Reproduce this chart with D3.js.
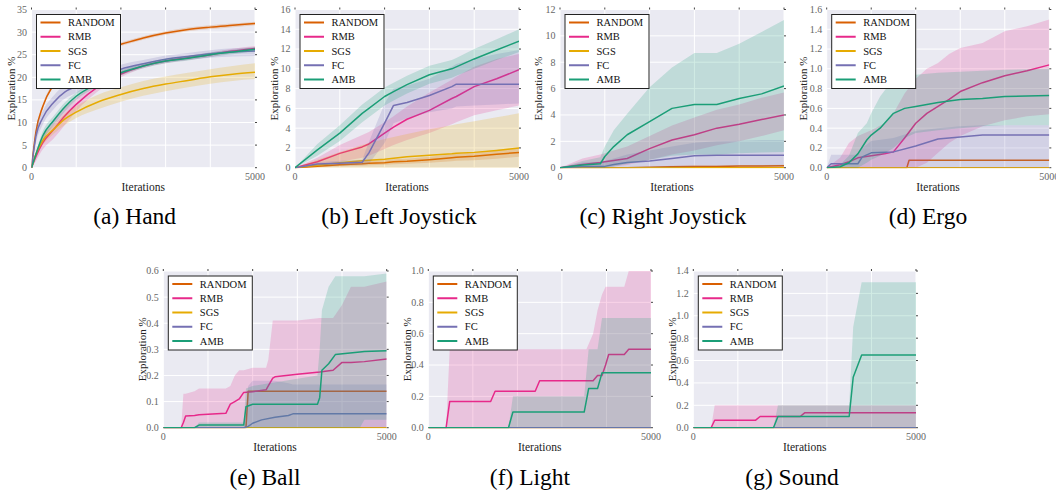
<!DOCTYPE html>
<html>
<head>
<meta charset="utf-8">
<script src="https://cdn.jsdelivr.net/npm/d3@7"></script>
<style>
  body { margin: 0; background: #fff; }
  svg { display: block; }
  text { font-family: "Liberation Serif", "DejaVu Serif", serif; }
</style>
</head>
<body>
<div id="chart"></div>
<script>
// Series (legend order) and their colours
const SERIES = ["RANDOM", "RMB", "SGS", "FC", "AMB"];
const COLORS = ["#d95f02", "#e7298a", "#e6ab02", "#7570b3", "#1b9e77"];

const X_GRID = [0, 1000, 2000, 3000, 4000, 5000];
const X_LABELS = [0, 5000];

// y tick values per panel
const handTicks = [0, 5, 10, 15, 20, 25, 30, 35];
const leftTicks = [0, 2, 4, 6, 8, 10, 12, 14, 16];
const rightTicks = [0, 2, 4, 6, 8, 10, 12];
const ergoTicks = [0, 0.2, 0.4, 0.6, 0.8, 1.0, 1.2, 1.4, 1.6];
const ballTicks = [0, 0.1, 0.2, 0.3, 0.4, 0.5, 0.6];
const lightTicks = [0, 0.2, 0.4, 0.6, 0.8, 1.0];
const soundTicks = [0, 0.2, 0.4, 0.6, 0.8, 1.0, 1.2, 1.4];

// (a) Hand: shared iterations, rows in SERIES order
const handX = [0, 100, 250, 500, 750, 1000, 1500, 2000, 2500, 3000, 3500, 4000, 4500, 5000];
const handMean = [
  [0, 8, 13.5, 18.5, 21.5, 23.5, 26, 27.3, 28.7, 29.8, 30.6, 31.1, 31.5, 31.9],
  [0, 2.5, 5.5, 8.5, 11.5, 14, 18, 20.7, 22.5, 23.6, 24.3, 25, 25.8, 26.4],
  [0, 3, 6, 8.5, 10.8, 12.3, 14.6, 16.2, 17.5, 18.5, 19.3, 20.1, 20.7, 21.1],
  [0, 7, 11, 14.5, 16.8, 18, 20, 21.8, 23, 24, 24.6, 25.2, 25.6, 25.8],
  [0, 3, 7, 10.5, 13.5, 15.8, 18.7, 21, 22.5, 23.6, 24.2, 25, 25.6, 26.2]
];
const handLo = [
  [0, 7.5, 13, 18, 21, 23, 25.6, 26.9, 28.3, 29.4, 30.2, 30.7, 31.1, 31.5],
  [0, 1.5, 4, 6.5, 9.5, 12.5, 17, 20, 22, 23.1, 23.8, 24.5, 25.3, 25.9],
  [0, 2.5, 5, 7.5, 9.5, 11, 13, 14.6, 15.9, 16.9, 17.8, 18.6, 19.2, 19.6],
  [0, 5.5, 9.5, 13, 15.3, 16.5, 18.8, 20.8, 22.2, 23.2, 23.8, 24.3, 24.6, 24.7],
  [0, 2.5, 6, 9.5, 12.5, 15, 18, 20.4, 22, 23.1, 23.7, 24.5, 25.1, 25.7]
];
const handHi = [
  [0, 8.5, 14, 19, 22, 24, 26.4, 27.7, 29.1, 30.2, 31, 31.5, 31.9, 32.3],
  [0, 3.5, 7, 10.5, 13.5, 15.5, 19, 21.4, 23, 24.1, 24.8, 25.5, 26.3, 26.9],
  [0, 3.5, 7, 9.5, 12, 13.6, 16.2, 17.8, 19.2, 20.2, 21, 21.8, 22.5, 23.1],
  [0, 8.5, 12.5, 16, 18.3, 19.5, 21.2, 22.8, 23.8, 24.8, 25.4, 26, 26.4, 26.6],
  [0, 3.5, 8, 11.5, 14.5, 16.6, 19.4, 21.6, 23, 24.1, 24.7, 25.5, 26.1, 26.7]
];

// (b) Left Joystick
const leftX = [0, 500, 1000, 1500, 1650, 2000, 2200, 2500, 3000, 3500, 3600, 4000, 4500, 5000];
const leftMean = [
  [0, 0.15, 0.3, 0.4, 0.45, 0.5, 0.6, 0.65, 0.8, 1.0, 1.05, 1.15, 1.35, 1.55],
  [0, 0.6, 1.45, 2.1, 2.4, 3.5, 4.1, 4.9, 5.8, 7.0, 7.2, 8.2, 9.0, 9.9],
  [0, 0.25, 0.5, 0.7, 0.75, 0.85, 0.95, 1.1, 1.25, 1.4, 1.45, 1.55, 1.75, 2.0],
  [0, 0.37, 0.45, 0.55, 1.5, 4.5, 6.3, 6.6, 7.3, 8.2, 8.45, 8.45, 8.45, 8.45],
  [0, 1.8, 3.5, 5.5, 6.0, 7.2, 7.7, 8.4, 9.4, 10.0, 10.2, 11.0, 11.9, 12.8]
];
const leftLo = [
  [0, 0.05, 0.15, 0.2, 0.25, 0.3, 0.35, 0.4, 0.5, 0.65, 0.7, 0.75, 0.9, 1.1],
  [0, 0.2, 0.6, 1.0, 1.2, 1.9, 2.3, 2.8, 3.5, 4.4, 4.6, 5.3, 5.8, 6.3],
  [0, 0, 0, 0, 0, 0, 0, 0, 0, 0, 0, 0, 0, 0],
  [0, 0.2, 0.25, 0.3, 0.4, 2.5, 4.5, 5.0, 5.6, 6.0, 6.2, 6.3, 6.4, 6.5],
  [0, 1.2, 2.7, 4.6, 5.1, 6.3, 6.8, 7.5, 8.5, 9.1, 9.3, 10.0, 10.9, 11.7]
];
const leftHi = [
  [0, 0.3, 0.5, 0.65, 0.7, 0.75, 0.85, 0.9, 1.1, 1.35, 1.4, 1.55, 1.8, 2.0],
  [0, 1.0, 2.3, 3.3, 3.6, 4.6, 5.2, 6.2, 7.6, 8.9, 9.2, 10.2, 11.0, 11.5],
  [0, 0.8, 1.6, 2.3, 2.5, 2.9, 3.1, 3.4, 3.9, 4.3, 4.4, 4.7, 5.1, 5.5],
  [0, 0.55, 0.7, 0.8, 2.6, 6.5, 8.0, 8.3, 9.0, 10.2, 10.5, 11.0, 11.5, 11.9],
  [0, 2.4, 4.3, 6.4, 6.9, 8.1, 8.6, 9.3, 10.3, 10.9, 11.1, 12.0, 13.0, 14.0]
];

// (c) Right Joystick
const rightX = [0, 500, 900, 1000, 1200, 1500, 2000, 2500, 3000, 3500, 4000, 4500, 5000];
const rightMean = [
  [0, 0, 0, 0, 0, 0, 0.03, 0.08, 0.1, 0.1, 0.12, 0.13, 0.15],
  [0, 0.25, 0.4, 0.45, 0.55, 0.7, 1.45, 2.1, 2.5, 3.0, 3.3, 3.65, 4.0],
  [0, 0, 0, 0, 0, 0, 0, 0, 0, 0, 0, 0, 0],
  [0, 0.1, 0.1, 0.1, 0.25, 0.4, 0.5, 0.7, 0.9, 0.95, 0.95, 0.95, 0.95],
  [0, 0.2, 0.3, 0.85, 1.6, 2.5, 3.5, 4.5, 4.8, 4.8, 5.25, 5.6, 6.2]
];
const rightLo = [
  [0, 0, 0, 0, 0, 0, 0, 0.03, 0.05, 0.05, 0.06, 0.07, 0.08],
  [0, 0, 0, 0, 0.1, 0.2, 0.6, 1.0, 1.3, 1.7, 2.0, 2.4, 2.85],
  [0, 0, 0, 0, 0, 0, 0, 0, 0, 0, 0, 0, 0],
  [0, 0, 0, 0, 0, 0, 0, 0, 0.05, 0.1, 0.1, 0.1, 0.1],
  [0, 0, 0, 0, 0.1, 0.3, 0.6, 0.9, 1.0, 1.0, 1.1, 1.15, 1.2]
];
const rightHi = [
  [0, 0, 0, 0, 0, 0.05, 0.08, 0.14, 0.16, 0.16, 0.18, 0.2, 0.22],
  [0, 0.7, 1.0, 1.1, 1.3, 1.6, 2.4, 3.2, 3.8, 4.4, 4.8, 5.3, 5.7],
  [0, 0, 0, 0, 0, 0, 0, 0, 0, 0, 0, 0, 0],
  [0, 0.4, 0.45, 0.5, 0.7, 1.0, 1.3, 1.6, 1.9, 2.0, 2.05, 2.1, 2.1],
  [0, 0.5, 0.8, 1.6, 2.85, 4.1, 6.1, 7.6, 8.7, 8.7, 9.4, 10.3, 11.2]
];

// (d)-(g): per series lists of [iteration, mean, low, high]
const ergoData = [
  [[0, 0, 0, 0], [1800, 0, 0, 0], [1850, 0.075, 0.075, 0.075], [5000, 0.075, 0.075, 0.075]],
  [[0, 0, 0, 0], [300, 0.03, 0, 0.1], [500, 0.06, 0, 0.25], [700, 0.1, 0, 0.32], [1000, 0.12, 0, 0.38],
   [1300, 0.14, 0, 0.45], [1500, 0.16, 0, 0.55], [1750, 0.3, 0, 0.75], [2000, 0.45, 0, 0.9],
   [2250, 0.55, 0.05, 1.0], [2500, 0.62, 0.15, 1.06], [2750, 0.69, 0.25, 1.15], [3000, 0.77, 0.32, 1.21],
   [3500, 0.86, 0.42, 1.26], [4000, 0.93, 0.48, 1.38], [4500, 0.98, 0.52, 1.43], [5000, 1.04, 0.54, 1.5]],
  [[0, 0, 0, 0], [5000, 0, 0, 0]],
  [[0, 0, 0, 0], [100, 0.04, 0, 0.13], [700, 0.04, 0, 0.13], [800, 0.11, 0, 0.2], [1000, 0.15, 0, 0.27],
   [1500, 0.16, 0, 0.3], [2000, 0.22, 0, 0.37], [2500, 0.29, 0, 0.4], [3000, 0.31, 0, 0.42],
   [3500, 0.33, 0, 0.43], [5000, 0.33, 0, 0.43]],
  [[0, 0, 0, 0], [300, 0.01, 0, 0.03], [500, 0.05, 0, 0.12], [700, 0.14, 0, 0.35], [900, 0.28, 0.05, 0.45],
   [1000, 0.33, 0.08, 0.55], [1200, 0.4, 0.12, 0.72], [1500, 0.55, 0.2, 0.9], [1750, 0.6, 0.3, 0.92],
   [2000, 0.62, 0.35, 0.94], [2500, 0.66, 0.38, 0.96], [3000, 0.69, 0.4, 0.97], [3500, 0.7, 0.42, 0.98],
   [4000, 0.72, 0.43, 0.99], [5000, 0.73, 0.43, 1.0]]
];

const ballData = [
  [[0, 0, 0, 0], [1850, 0, 0, 0], [1900, 0.14, 0.14, 0.14], [5000, 0.14, 0.14, 0.14]],
  [[0, 0, 0, 0], [400, 0, 0, 0], [450, 0.02, 0, 0.13], [500, 0.045, 0, 0.13], [700, 0.047, 0, 0.14],
   [800, 0.05, 0, 0.15], [1400, 0.055, 0, 0.15], [1500, 0.09, 0, 0.16], [1600, 0.1, 0, 0.2],
   [1700, 0.11, 0, 0.22], [1800, 0.135, 0, 0.22], [2000, 0.138, 0, 0.23], [2300, 0.145, 0, 0.23],
   [2350, 0.16, 0, 0.26], [2450, 0.19, 0, 0.41], [2500, 0.195, 0, 0.41], [3000, 0.205, 0, 0.41],
   [3500, 0.213, 0, 0.42], [3800, 0.22, 0, 0.42], [4000, 0.25, 0, 0.47], [4200, 0.25, 0, 0.54],
   [4500, 0.253, 0, 0.54], [5000, 0.263, 0, 0.56]],
  [[0, 0, 0, 0], [5000, 0, 0, 0]],
  [[0, 0, 0, 0], [1800, 0, 0, 0], [1900, 0.005, 0, 0.16], [2000, 0.017, 0, 0.18], [2200, 0.03, 0, 0.18],
   [2500, 0.04, 0, 0.18], [2800, 0.047, 0, 0.17], [2900, 0.053, 0, 0.165], [5000, 0.053, 0, 0.165]],
  [[0, 0, 0, 0], [700, 0, 0, 0], [800, 0.01, 0, 0.02], [1800, 0.01, 0, 0.02], [1850, 0.08, 0, 0.15],
   [2000, 0.09, 0, 0.16], [3450, 0.09, 0, 0.2], [3500, 0.115, 0, 0.3], [3550, 0.22, 0, 0.45],
   [3700, 0.245, 0, 0.54], [3850, 0.28, 0, 0.58], [4400, 0.29, 0, 0.58], [4500, 0.292, 0.03, 0.58],
   [5000, 0.295, 0.03, 0.59]]
];

const lightData = [
  [[0, 0, 0, 0], [5000, 0, 0, 0]],
  [[0, 0, 0, 0], [400, 0, 0, 0], [480, 0.167, 0, 0.5], [1400, 0.167, 0, 0.5], [1500, 0.233, 0, 0.5],
   [2400, 0.233, 0, 0.5], [2500, 0.3, 0, 0.5], [3550, 0.3, 0, 0.5], [3700, 0.3, 0, 0.6],
   [3800, 0.333, 0, 0.75], [3900, 0.333, 0, 0.85], [3980, 0.4, 0, 0.9], [4050, 0.467, 0, 0.9],
   [4400, 0.467, 0, 0.9], [4500, 0.5, 0, 1.0], [5000, 0.5, 0, 1.0]],
  [[0, 0, 0, 0], [5000, 0, 0, 0]],
  [[0, 0, 0, 0], [5000, 0, 0, 0]],
  [[0, 0, 0, 0], [1800, 0, 0, 0], [1900, 0.1, 0, 0.2], [3500, 0.1, 0, 0.2], [3600, 0.25, 0, 0.5],
   [3800, 0.25, 0, 0.5], [3900, 0.35, 0, 0.7], [5000, 0.35, 0, 0.7]]
];

const soundData = [
  [[0, 0, 0, 0], [5000, 0, 0, 0]],
  [[0, 0, 0, 0], [400, 0, 0, 0], [480, 0.067, 0, 0.2], [1400, 0.067, 0, 0.2], [1500, 0.1, 0, 0.2],
   [2400, 0.1, 0, 0.2], [2500, 0.133, 0, 0.2], [5000, 0.133, 0, 0.2]],
  [[0, 0, 0, 0], [5000, 0, 0, 0]],
  [[0, 0, 0, 0], [5000, 0, 0, 0]],
  [[0, 0, 0, 0], [1800, 0, 0, 0], [1900, 0.1, 0, 0.2], [3500, 0.1, 0, 0.2], [3590, 0.45, 0, 0.9],
   [3780, 0.65, 0, 1.3], [5000, 0.65, 0, 1.3]]
];

// turn shared-x tables into the [iteration, mean, low, high] form
function toRows(xs, mean, lo, hi) {
  return mean.map((m, s) => xs.map((x, i) => [x, m[i], lo[s][i], hi[s][i]]));
}

const panels = [
  { rows: toRows(handX, handMean, handLo, handHi), ticks: handTicks, fmt: "d", smooth: true,
    x: 31.5, y: 9.5, w: 223.5, h: 158.2, ylab: 20, caption: "(a) Hand", capX: 134.7, capY: 224 },
  { rows: toRows(leftX, leftMean, leftLo, leftHi), ticks: leftTicks, fmt: "d",
    x: 295, y: 9.5, w: 224, h: 158.2, ylab: 20.5, caption: "(b) Left Joystick", capX: 399, capY: 224 },
  { rows: toRows(rightX, rightMean, rightLo, rightHi), ticks: rightTicks, fmt: "d",
    x: 560, y: 9.5, w: 224, h: 158.2, ylab: 21.5, caption: "(c) Right Joystick", capX: 663, capY: 224 },
  { rows: ergoData, ticks: ergoTicks, fmt: ".1f",
    x: 826.7, y: 9.5, w: 222.6, h: 158.2, ylab: 23.5, caption: "(d) Ergo", capX: 928, capY: 224 },
  { rows: ballData, ticks: ballTicks, fmt: ".1f",
    x: 163.3, y: 271, w: 223.4, h: 156.7, ylab: 21.6, caption: "(e) Ball", capX: 265, capY: 484.5 },
  { rows: lightData, ticks: lightTicks, fmt: ".1f",
    x: 428.3, y: 271, w: 222.7, h: 156.7, ylab: 21.6, caption: "(f) Light", capX: 530, capY: 484.5 },
  { rows: soundData, ticks: soundTicks, fmt: ".1f",
    x: 693.3, y: 271, w: 222.7, h: 156.7, ylab: 21.6, caption: "(g) Sound", capX: 792, capY: 484.5 }
];

const FONT = "Liberation Serif";
const width = 1056, height = 494;
const svg = d3.select("#chart").append("svg")
  .attr("width", width)
  .attr("height", height);

panels.forEach((p, pi) => {
  const g = svg.append("g").attr("transform", `translate(${p.x},${p.y})`);
  const x = d3.scaleLinear().domain([0, 5000]).range([0, p.w]);
  const y = d3.scaleLinear().domain([0, d3.max(p.ticks)]).range([p.h, 0]);

  // background + grid
  g.append("rect").attr("width", p.w).attr("height", p.h).attr("fill", "#eaeaf2");
  g.selectAll(".gy").data(p.ticks).join("line")
    .attr("x1", 0).attr("x2", p.w)
    .attr("y1", d => y(d)).attr("y2", d => y(d))
    .attr("stroke", "#fff").attr("stroke-width", 1);
  g.selectAll(".gx").data(X_GRID).join("line")
    .attr("x1", d => x(d)).attr("x2", d => x(d))
    .attr("y1", 0).attr("y2", p.h)
    .attr("stroke", "#fff").attr("stroke-width", 1);

  // small ticks on right and top
  g.selectAll(".tr").data(p.ticks).join("line")
    .attr("x1", p.w).attr("x2", p.w + 2)
    .attr("y1", d => y(d)).attr("y2", d => y(d))
    .attr("stroke", "#444");
  g.selectAll(".tt").data(X_GRID).join("line")
    .attr("x1", d => x(d)).attr("x2", d => x(d))
    .attr("y1", -2).attr("y2", 0)
    .attr("stroke", "#444");

  const clipId = "clip" + pi;
  g.append("clipPath").attr("id", clipId)
    .append("rect").attr("width", p.w).attr("height", p.h + 1).attr("y", -0.5);

  const plot = g.append("g").attr("clip-path", `url(#${clipId})`);
  const curve = p.smooth ? d3.curveMonotoneX : d3.curveLinear;
  const area = d3.area().x(d => x(d[0])).y0(d => y(d[2])).y1(d => y(d[3])).curve(curve);
  const line = d3.line().x(d => x(d[0])).y(d => y(d[1])).curve(curve);

  p.rows.forEach((pts, s) => {
    plot.append("path").attr("d", area(pts))
      .attr("fill", COLORS[s]).attr("fill-opacity", 0.2);
    plot.append("path").attr("d", line(pts))
      .attr("fill", "none").attr("stroke", COLORS[s])
      .attr("stroke-width", 1.5).attr("stroke-linejoin", "round");
  });

  // tick labels
  const fmt = d3.format(p.fmt);
  g.selectAll(".yl").data(p.ticks).join("text")
    .attr("x", -4.5).attr("y", d => y(d))
    .attr("dy", "0.34em")
    .attr("text-anchor", "end")
    .attr("font-family", FONT)
    .attr("font-size", 10).attr("fill", "#666")
    .text(d => fmt(d));
  g.selectAll(".xl").data(X_LABELS).join("text")
    .attr("x", d => x(d)).attr("y", p.h + 12)
    .attr("text-anchor", "middle")
    .attr("font-family", FONT)
    .attr("font-size", 10).attr("fill", "#666")
    .text(d => d);

  // axis labels
  g.append("text")
    .attr("x", p.w / 2).attr("y", p.h + 23.5)
    .attr("text-anchor", "middle")
    .attr("font-family", FONT)
    .attr("font-size", 11.5).attr("fill", "#222")
    .text("Iterations");
  g.append("text")
    .attr("transform", `translate(${-p.ylab},${p.h / 2}) rotate(-90)`)
    .attr("text-anchor", "middle").attr("dy", "0.35em")
    .attr("font-family", FONT)
    .attr("font-size", 11).attr("fill", "#222")
    .text("Exploration %");

  // legend
  const lg = g.append("g").attr("transform", "translate(5,5)");
  lg.append("rect").attr("width", 84).attr("height", 74)
    .attr("fill", "#fff").attr("stroke", "#222").attr("stroke-width", 1);
  SERIES.forEach((name, s) => {
    const ly = 8 + s * 14.25;
    lg.append("line").attr("x1", 4).attr("x2", 24).attr("y1", ly).attr("y2", ly)
      .attr("stroke", COLORS[s]).attr("stroke-width", 2);
    lg.append("text").attr("x", 31.5).attr("y", ly).attr("dy", "0.35em")
      .attr("font-family", FONT)
      .attr("font-size", 10.5).attr("fill", "#111").text(name);
  });

  // caption
  svg.append("text")
    .attr("x", p.capX).attr("y", p.capY)
    .attr("text-anchor", "middle")
    .attr("font-family", FONT)
    .attr("font-size", 23.5).attr("fill", "#000")
    .text(p.caption);
});
</script>
</body>
</html>
